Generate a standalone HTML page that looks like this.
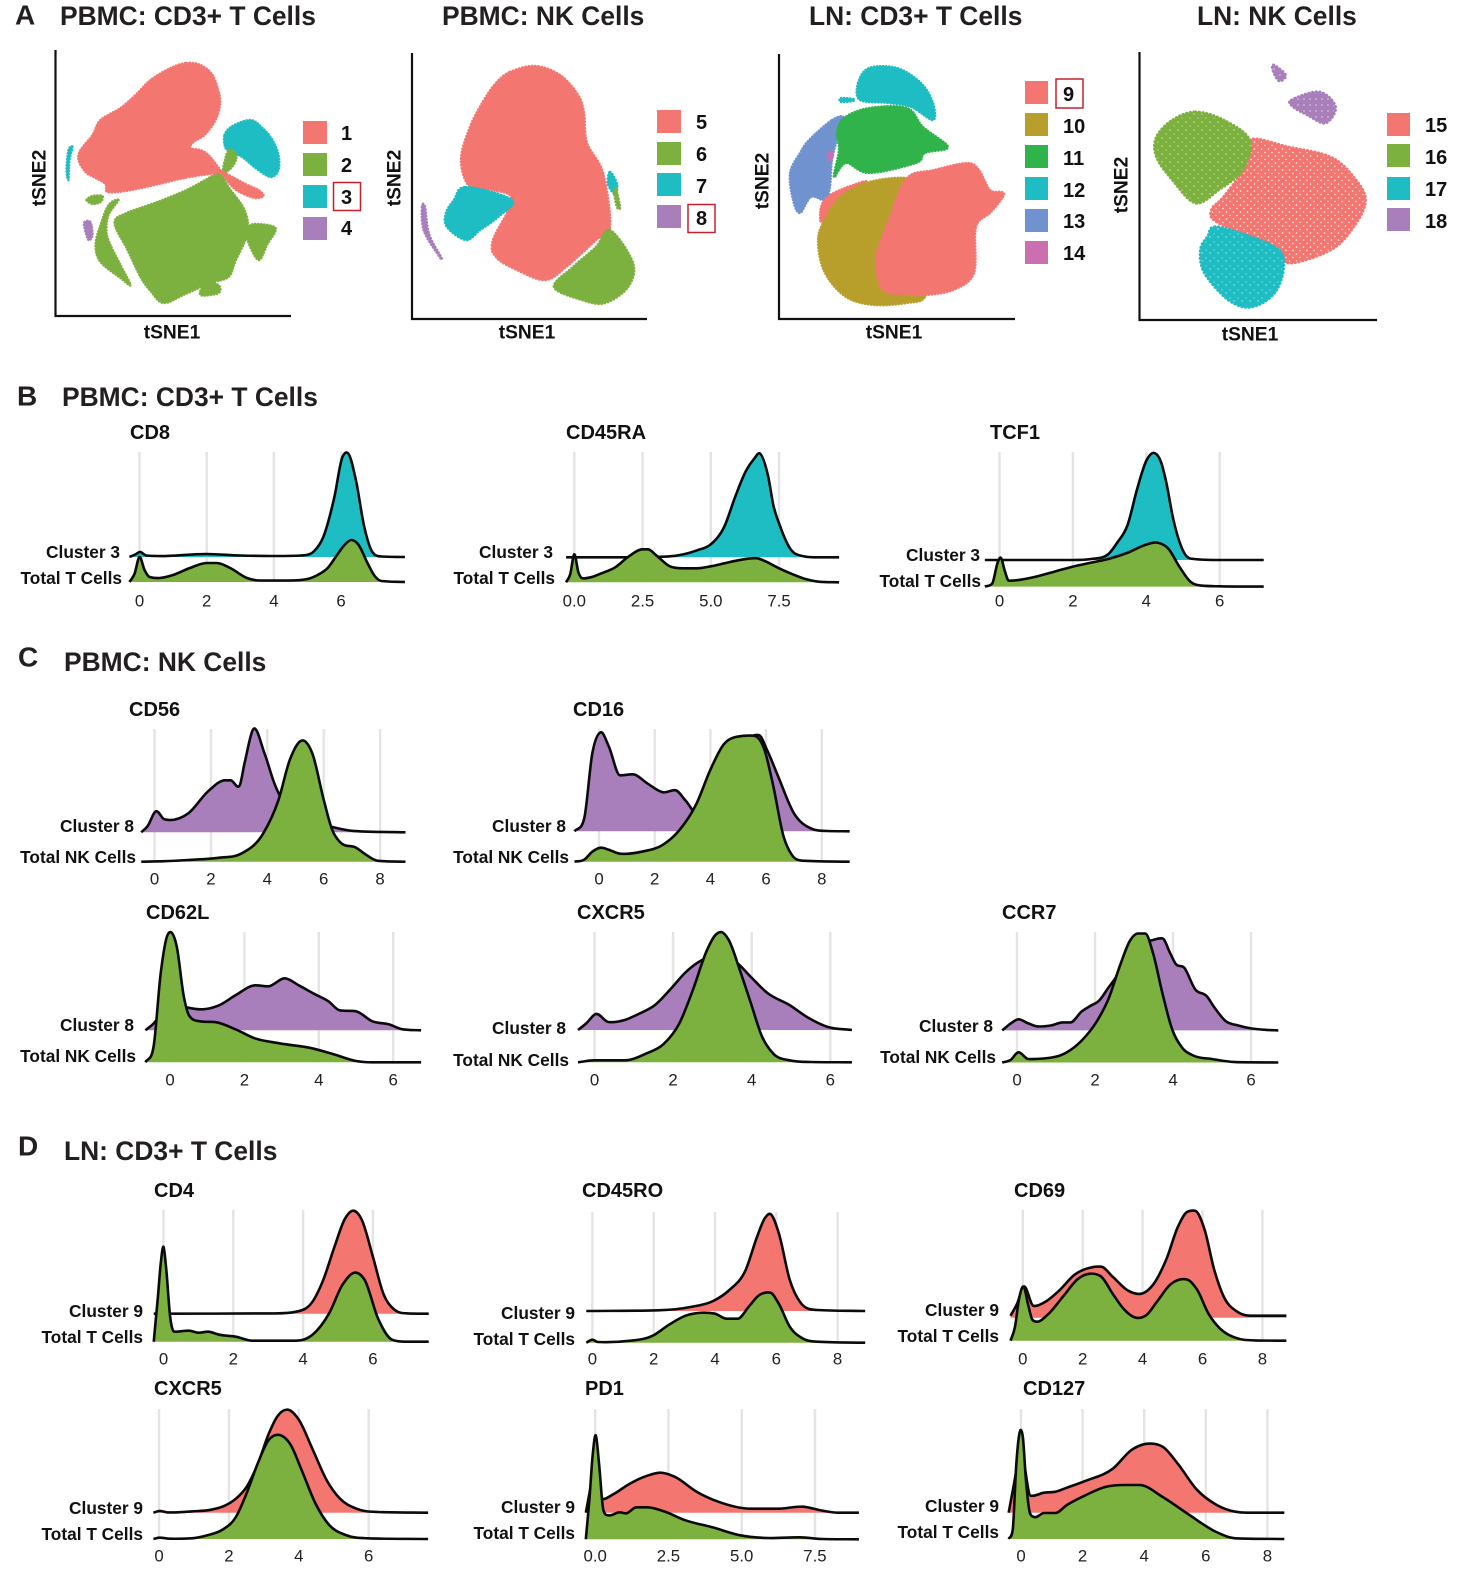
<!DOCTYPE html>
<html lang="en">
<head>
<meta charset="utf-8">
<title>tSNE clusters and marker density ridgelines</title>
<style>
html,body{margin:0;padding:0;background:#fff}
svg{display:block}
text{font-family:"Liberation Sans",sans-serif;fill:#231f20;dominant-baseline:central}
.letter{font-size:28px;font-weight:700}
.section{font-size:26.4px;font-weight:700}
.panel{font-size:20px;font-weight:700;fill:#111}
.row{font-size:17.3px;font-weight:700;text-anchor:end;fill:#111}
.axis{font-size:19.2px;font-weight:700;text-anchor:middle;fill:#111}
.leg{font-size:20px;font-weight:700;fill:#111}
.tick{font-size:16.8px;text-anchor:middle;fill:#222}
</style>
</head>
<body>
<svg id="figure" xmlns="http://www.w3.org/2000/svg" width="1460" height="1569" viewBox="0 0 1460 1569">
<defs>
<pattern id="dots-red" width="7" height="7" patternUnits="userSpaceOnUse"><rect width="7" height="7" fill="#F47670"/><circle cx="1.5" cy="2" r=".8" fill="#fff"/><circle cx="5" cy="5.5" r=".7" fill="#fff"/></pattern>
<pattern id="dots-green" width="8" height="8" patternUnits="userSpaceOnUse"><rect width="8" height="8" fill="#7CB13F"/><circle cx="2" cy="2" r=".6" fill="#fff"/><circle cx="6" cy="6" r=".5" fill="#fff"/></pattern>
<pattern id="dots-teal" width="8" height="8" patternUnits="userSpaceOnUse"><rect width="8" height="8" fill="#1DBDC3"/><circle cx="2" cy="5" r=".6" fill="#fff"/><circle cx="6" cy="2" r=".5" fill="#fff"/></pattern>
<pattern id="dots-purple" width="6" height="6" patternUnits="userSpaceOnUse"><rect width="6" height="6" fill="#A97FBB"/><circle cx="2" cy="3" r=".6" fill="#fff"/></pattern>
</defs>

<g>
<text class="letter" x="15" y="15">A</text>
<text class="section" x="60" y="16">PBMC: CD3+ T Cells</text>
<text class="section" x="442" y="16">PBMC: NK Cells</text>
<text class="section" x="809" y="16">LN: CD3+ T Cells</text>
<text class="section" x="1197" y="16">LN: NK Cells</text>
<text class="letter" x="17" y="396">B</text>
<text class="section" x="62" y="397">PBMC: CD3+ T Cells</text>
<text class="letter" x="18" y="657">C</text>
<text class="section" x="64" y="662">PBMC: NK Cells</text>
<text class="letter" x="18" y="1146">D</text>
<text class="section" x="64" y="1151">LN: CD3+ T Cells</text>
</g>

<g id="tsne-layer"></g>

<g>
<text class="axis" x="172" y="333">tSNE1</text>
<text class="axis" transform="translate(40 178) rotate(-90)">tSNE2</text>
<text class="axis" x="527" y="333">tSNE1</text>
<text class="axis" transform="translate(395 178) rotate(-90)">tSNE2</text>
<text class="axis" x="894" y="333">tSNE1</text>
<text class="axis" transform="translate(763 181) rotate(-90)">tSNE2</text>
<text class="axis" x="1250" y="335">tSNE1</text>
<text class="axis" transform="translate(1122 185) rotate(-90)">tSNE2</text>
</g>

<g>
<rect x="303" y="121" width="24" height="23" fill="#F47670"/><text class="leg" x="341" y="134">1</text>
<rect x="303" y="153" width="24" height="23" fill="#7CB13F"/><text class="leg" x="341" y="166">2</text>
<rect x="303" y="185" width="24" height="23" fill="#1DBDC3"/><text class="leg" x="341" y="198">3</text>
<rect x="303" y="217" width="24" height="23" fill="#A97FBB"/><text class="leg" x="341" y="229">4</text>
<rect x="333.5" y="182.5" width="27" height="28" fill="none" stroke="#c4202e" stroke-width="1.5"/>
</g>
<g>
<rect x="657" y="110" width="24" height="23" fill="#F47670"/><text class="leg" x="696" y="123">5</text>
<rect x="657" y="142" width="24" height="23" fill="#7CB13F"/><text class="leg" x="696" y="155">6</text>
<rect x="657" y="173" width="24" height="23" fill="#1DBDC3"/><text class="leg" x="696" y="187">7</text>
<rect x="657" y="205" width="24" height="23" fill="#A97FBB"/><text class="leg" x="696" y="219">8</text>
<rect x="688" y="204.5" width="27" height="28" fill="none" stroke="#c4202e" stroke-width="1.5"/>
</g>
<g>
<rect x="1025" y="81" width="23" height="23" fill="#F47670"/><text class="leg" x="1063" y="95">9</text>
<rect x="1025" y="113" width="23" height="23" fill="#B89F2C"/><text class="leg" x="1063" y="127">10</text>
<rect x="1025" y="145" width="23" height="23" fill="#2FB34A"/><text class="leg" x="1063" y="159">11</text>
<rect x="1025" y="177" width="23" height="23" fill="#1DBDC3"/><text class="leg" x="1063" y="191">12</text>
<rect x="1025" y="209" width="23" height="23" fill="#7093CF"/><text class="leg" x="1063" y="222">13</text>
<rect x="1025" y="241" width="23" height="23" fill="#CA6FB0"/><text class="leg" x="1063" y="254">14</text>
<rect x="1056" y="79" width="27" height="29" fill="none" stroke="#c4202e" stroke-width="1.5"/>
</g>
<g>
<rect x="1387" y="113" width="23" height="23" fill="#F47670"/><text class="leg" x="1425" y="126">15</text>
<rect x="1387" y="144" width="23" height="23" fill="#7CB13F"/><text class="leg" x="1425" y="158">16</text>
<rect x="1387" y="177" width="23" height="23" fill="#1DBDC3"/><text class="leg" x="1425" y="190">17</text>
<rect x="1387" y="208" width="23" height="23" fill="#A97FBB"/><text class="leg" x="1425" y="222">18</text>
</g>

<g id="ridge-layer"></g>

<g>
<text class="panel" x="130" y="433">CD8</text>
<text class="row" x="120" y="552">Cluster 3</text>
<text class="row" x="122" y="578">Total T Cells</text>
<text class="panel" x="566" y="433">CD45RA</text>
<text class="row" x="553" y="552">Cluster 3</text>
<text class="row" x="555" y="578">Total T Cells</text>
<text class="panel" x="990" y="433">TCF1</text>
<text class="row" x="980" y="555">Cluster 3</text>
<text class="row" x="981" y="581">Total T Cells</text>

<text class="panel" x="129" y="710">CD56</text>
<text class="row" x="134" y="826">Cluster 8</text>
<text class="row" x="136" y="857">Total NK Cells</text>
<text class="panel" x="573" y="710">CD16</text>
<text class="row" x="566" y="826">Cluster 8</text>
<text class="row" x="569" y="857">Total NK Cells</text>
<text class="panel" x="146" y="913">CD62L</text>
<text class="row" x="134" y="1025">Cluster 8</text>
<text class="row" x="136" y="1056">Total NK Cells</text>
<text class="panel" x="577" y="913">CXCR5</text>
<text class="row" x="566" y="1028">Cluster 8</text>
<text class="row" x="569" y="1060">Total NK Cells</text>
<text class="panel" x="1002" y="913">CCR7</text>
<text class="row" x="993" y="1026">Cluster 8</text>
<text class="row" x="996" y="1057">Total NK Cells</text>

<text class="panel" x="154" y="1191">CD4</text>
<text class="row" x="143" y="1311">Cluster 9</text>
<text class="row" x="143" y="1337">Total T Cells</text>
<text class="panel" x="582" y="1191">CD45RO</text>
<text class="row" x="575" y="1313">Cluster 9</text>
<text class="row" x="575" y="1339">Total T Cells</text>
<text class="panel" x="1014" y="1191">CD69</text>
<text class="row" x="999" y="1310">Cluster 9</text>
<text class="row" x="999" y="1336">Total T Cells</text>
<text class="panel" x="154" y="1389">CXCR5</text>
<text class="row" x="143" y="1508">Cluster 9</text>
<text class="row" x="143" y="1534">Total T Cells</text>
<text class="panel" x="585" y="1389">PD1</text>
<text class="row" x="575" y="1507">Cluster 9</text>
<text class="row" x="575" y="1533">Total T Cells</text>
<text class="panel" x="1023" y="1389">CD127</text>
<text class="row" x="999" y="1506">Cluster 9</text>
<text class="row" x="999" y="1532">Total T Cells</text>
</g>
</svg>

<script>
// ---------- tSNE cluster outlines: [tSNE1, tSNE2] ----------
const c1Red=[[131,253],[145,251],[157,241],[164,221],[164,208],[159,194],[149,181],[138,174],[135,168],[145,166],[153,161],[161,151],[165,144],[155,142],[140,140],[120,136],[95,130],[70,125],[52,124],[50,132],[40,138],[30,144],[23,156],[25,166],[37,181],[45,196],[65,208],[80,221],[95,236],[115,248]];
const c1RedRay=[[166,144],[177,139],[190,132],[203,126],[208,120],[200,118],[188,122],[177,129]];
const c3Teal=[[169,181],[177,190],[195,196],[207,188],[217,176],[223,161],[223,146],[215,139],[200,148],[188,158],[177,164],[170,168]];
const c2Bit=[[167,144],[173,166],[181,161],[178,151],[171,144]];
const c2Main=[[164,143],[173,129],[189,106],[192,83],[180,55],[173,39],[155,33],[130,22],[108,13],[95,25],[85,39],[72,66],[59,93],[71,103],[99,113],[131,126],[155,139]];
const c2Right=[[192,88],[200,92],[220,88],[212,72],[203,56],[192,76]];
const c2Crescent=[[63,116],[53,101],[51,84],[55,71],[65,51],[75,31],[65,38],[45,54],[40,71],[45,91],[53,111]];
const c2Small=[[31,116],[37,120],[47,120],[45,114],[37,112]];
const c2Nub=[[150,33],[163,31],[163,23],[145,21]];
const c4Purple=[[29,94],[35,94],[37,81],[33,76],[29,88]];
const c3Sliver=[[17,169],[14,156],[13,136],[11,146],[13,166]];

const c5Red=[[98,247],[123,253],[148,244],[166,224],[172,206],[175,176],[191,146],[198,92],[184,79],[154,52],[133,39],[105,49],[84,62],[81,79],[100,119],[81,129],[58,132],[49,159],[58,192],[72,219],[84,236]];
const c7Teal=[[54,132],[100,119],[86,102],[68,89],[54,79],[35,92],[34,106],[42,119]];
const c6Green=[[198,89],[221,56],[216,32],[193,16],[170,19],[142,32],[161,52],[184,72]];
const c7Small=[[198,147],[205,135],[203,125],[196,135]];
const c6Tail=[[204,130],[208,112],[205,112],[202,128]];
const c8Sliver=[[10,112],[13,112],[17,85],[29,62],[27,63],[12,88]];

const c12Teal=[[79,236],[90,251],[118,251],[142,236],[154,216],[154,199],[132,212],[109,216],[81,219]];
const c12Small=[[62,221],[74,220],[74,218],[62,217]];
const c11Green=[[65,201],[90,211],[128,211],[144,192],[169,172],[146,166],[137,156],[90,146],[67,156],[55,142],[60,169],[58,186]];
const c13Blue=[[53,199],[65,201],[58,179],[53,159],[51,132],[46,119],[32,122],[21,106],[14,119],[11,146],[21,166],[30,179]];
const c14Pink=[[50,167],[54,165],[52,159],[49,161]];
const c9Strip=[[83,137],[48,122],[41,102],[48,99],[83,132]];
const c10Olive=[[128,141],[90,137],[62,122],[44,96],[39,76],[46,46],[67,22],[95,14],[128,16],[146,22],[150,50],[140,90],[135,130]];
const c9Red=[[128,141],[155,149],[188,156],[200,149],[211,129],[223,127],[224,122],[211,106],[197,92],[195,46],[174,29],[146,24],[128,25],[104,29],[97,56],[100,72],[111,102]];

const c16Green=[[56,208],[84,200],[110,180],[103,150],[79,130],[56,117],[33,140],[17,163],[17,183],[33,200]];
const c15Red=[[110,180],[149,173],[191,163],[214,143],[226,120],[214,93],[191,70],[149,57],[135,73],[79,97],[72,110],[84,123],[103,150]];
const c17Teal=[[79,93],[135,73],[144,53],[135,27],[112,13],[89,20],[65,47],[61,70],[68,83]];
const c18Big=[[152,220],[180,228],[196,213],[186,197],[168,205],[154,213]];
const c18Small=[[134,255],[146,245],[140,239],[134,248]];

// ---------- Ridge densities: [marker expression, density] ----------
const cd8Ticks=[0,2,4,6];
const cd8Cluster=[[-.3,0],[-.1,3],[0,5],[.2,1.5],[.5,1],[2,3],[3,1.5],[4,1],[4.8,1.5],[5.2,6],[5.47,20],[5.8,60],[6.04,100],[6.2,104],[6.44,77],[6.69,30],[6.93,5],[7.2,.5],[7.9,0]];
const cd8Total=[[-.3,0],[-.15,8],[0,25],[.15,12],[.3,5],[.6,4],[1,7],[1.5,14],[2,19],[2.3,19],[2.7,14],[3.2,4],[3.6,1.5],[4.4,1.5],[5,3],[5.3,7],[5.6,14],[5.9,28],[6.1,37],[6.3,42],[6.5,38],[6.8,18],[7,6],[7.2,1],[7.9,0]];

const cd45raTicks=[0,2.5,5,7.5];
const cd45raCluster=[[-.3,0],[2,0],[3.5,1],[4.5,7],[5,13],[5.5,31],[5.9,61],[6.3,87],[6.6,99],[6.78,104],[7.1,81],[7.3,51],[7.5,34],[7.9,9],[8.4,1],[8.8,0],[9.7,0]];
const cd45raTotal=[[-.3,0],[-.15,8],[0,28],[.15,10],[.3,4],[.6,5],[1,9],[1.5,15],[2,26],[2.5,33],[2.7,33],[3,27],[3.5,16],[4,14],[4.5,14],[5,16],[5.5,19],[6,22],[6.7,24],[7,21],[7.5,14],[8,8],[8.5,3],[9,.5],[9.7,0]];

const tcf1Ticks=[0,2,4,6];
const tcf1Cluster=[[-.4,0],[2,0],[2.5,1],[2.97,6],[3.2,17],[3.49,35],[3.75,71],[4.01,100],[4.22,107],[4.4,98],[4.53,80],[4.74,40],[5.05,6],[5.3,1],[6,0],[7.2,0]];
const tcf1Total=[[-.4,0],[-.2,3],[-.05,24],[.03,29],[.15,15],[.25,6],[.6,7],[1,10],[1.5,15],[2,20],[2.5,24],[3,28],[3.5,34],[4,42],[4.3,44],[4.6,38],[4.9,20],[5.2,5],[5.5,1],[6,.3],[7.2,0]];

const cd56Ticks=[0,2,4,6,8];
const cd56Cluster=[[-.47,0],[-.25,6],[.05,21],[.35,13],[1.2,19],[1.9,41],[2.5,52],[2.7,52],[3,46],[3.2,70],[3.5,103],[3.9,79],[4.25,49],[4.65,26],[5.4,12],[6.2,6],[7,1.5],[8.9,0]];
const cd56Total=[[-.47,0],[.35,.5],[1.2,1.7],[2.3,4],[3.07,8],[3.85,28],[4.4,62],[4.8,102],[5.3,121],[5.6,108],[6,62],[6.3,32],[6.6,19],[7.15,14],[7.5,7],[7.9,1],[8.9,0]];

const cd16Ticks=[0,2,4,6,8];
const cd16Cluster=[[-.88,0],[-.53,13],[-.24,78],[.06,99],[.35,85],[.75,56],[1.23,57],[1.73,48],[2.3,39],[2.75,41],[3.1,31],[3.6,15],[4.5,60],[5.3,92],[5.75,96],[6.04,81],[6.43,55],[7,18],[7.6,3],[8.2,.3],[9,0]];
const cd16Total=[[-.88,0],[-.53,2],[-.24,10],[.06,14],[.35,12],[.75,8],[1.53,10],[2.3,17],[2.9,32],[3.5,58],[4,92],[4.47,117],[4.96,125],[5.55,126],[5.94,112],[6.24,78],[6.63,25],[6.92,7],[7.3,1],[9,0]];

const cd62lTicks=[0,2,4,6];
const cd62lCluster=[[-.66,0],[-.37,10],[-.1,30],[.44,23],[.88,21],[1.32,25],[1.76,35],[2.28,45],[2.65,44],[3.09,52],[3.46,45],[3.9,36],[4.26,29],[4.56,20],[5,19],[5.44,9],[5.88,6],[6.25,1],[6.75,0]];
const cd62lTotal=[[-.66,0],[-.44,16],[-.25,89],[-.07,127],[.03,130],[.18,116],[.37,66],[.51,47],[.81,41],[1.25,40],[1.76,33],[2.28,24],[2.94,19],[3.82,14],[4.4,8],[5,1.3],[5.44,0],[6.75,0]];

const cxcr5NkTicks=[0,2,4,6];
const cxcr5NkCluster=[[-.42,0],[-.2,7],[.03,16],[.35,8],[.77,10],[1.12,16],[1.54,25],[1.96,42],[2.3,57],[2.65,68],[3.2,75],[3.63,67],[3.98,53],[4.4,37],[4.96,25],[5.45,12],[5.94,3],[6.55,0]];
const cxcr5NkTotal=[[-.42,0],[0,2],[.77,2],[1.33,9],[1.75,18],[2.16,39],[2.5,72],[2.86,112],[3.07,127],[3.25,130],[3.42,122],[3.7,92],[3.98,59],[4.26,26],[4.54,9],[4.96,2],[5.5,.3],[6.55,0]];

const ccr7Ticks=[0,2,4,6];
const ccr7Cluster=[[-.38,0],[-.16,7],[.02,11],[.29,7],[.53,4],[.88,5],[1.17,8],[1.37,8],[1.66,19],[1.86,24],[2.11,30],[2.35,43],[2.5,51],[2.9,75],[3.2,88],[3.44,90],[3.73,92],[3.93,77],[4.08,66],[4.28,63],[4.57,41],[4.87,34],[5.06,23],[5.36,9],[5.66,5],[6,2],[6.4,.5],[6.7,0]];
const ccr7Total=[[-.38,0],[-.16,2.7],[.02,10],[.29,3.5],[.68,4],[1.27,10],[1.66,22],[2.06,42],[2.35,64],[2.65,98],[2.9,122],[3.1,129],[3.29,129],[3.49,109],[3.73,69],[3.98,33],[4.23,15],[4.52,7],[5,3.5],[5.6,.4],[6.7,0]];

const cd4Ticks=[0,2,4,6];
const cd4Cluster=[[-.28,0],[3.17,.3],[3.8,2],[4.27,12],[4.58,34],[4.9,67],[5.2,95],[5.45,103],[5.68,94],[6,57],[6.3,20],[6.62,4],[7,.3],[7.6,0]];
const cd4Total=[[-.28,0],[-.16,45],[-.08,78],[0,95],[.08,72],[.19,25],[.31,10],[.74,11],[1,9],[1.29,10],[1.6,7],[2.07,5],[2.54,1],[3.8,1],[4.27,7],[4.74,28],[5.13,57],[5.53,69],[5.76,62],[6.15,23],[6.55,2],[6.94,0],[7.6,0]];

const cd45roTicks=[0,2,4,6,8];
const cd45roCluster=[[-.2,0],[2.15,.7],[3.2,4],[3.94,10],[4.47,21],[5,41],[5.37,74],[5.63,93],[5.81,97],[6.08,78],[6.44,31],[6.8,8],[7.33,1],[8.9,0]];
const cd45roTotal=[[-.2,0],[0,3],[.18,.7],[1.25,2],[1.97,7],[2.5,18],[3.04,27],[3.58,30],[4,29],[4.38,24],[4.74,24],[5.1,36],[5.46,48],[5.81,50],[6.08,39],[6.44,16],[6.88,4],[7.33,1],[8.9,0]];

const cd69Ticks=[0,2,4,6,8];
const cd69Cluster=[[-.41,2],[-.19,14],[.03,31],[.35,12],[.7,15],[1.21,27],[1.73,43],[2.24,50],[2.62,51],[3,41],[3.52,27],[3.96,24],[4.35,33],[4.8,59],[5.18,91],[5.5,106],[5.75,107],[6.07,88],[6.39,48],[6.71,21],[7.16,6],[7.6,2],[8.8,2]];
const cd69Total=[[-.41,0],[-.26,14],[-.13,41],[.03,54],[.17,37],[.32,21],[.47,19],[.83,26],[1.34,44],[1.85,62],[2.24,67],[2.62,64],[3,47],[3.39,31],[3.77,23],[4.1,25],[4.48,39],[4.92,56],[5.5,61],[5.82,51],[6.2,27],[6.59,12],[7.1,3],[7.74,.3],[8.8,0]];

const cxcr5LnTicks=[0,2,4,6];
const cxcr5LnCluster=[[-.16,0],[0,1.7],[.24,.3],[.94,1.3],[1.49,3],[1.88,7],[2.2,14],[2.51,26],[2.83,49],[3.14,79],[3.38,96],[3.69,103],[4,93],[4.4,63],[4.79,33],[5.18,14],[5.65,4],[6.28,.7],[7.7,0]];
const cxcr5LnTotal=[[-.16,0],[0,1.3],[.3,.3],[.94,.7],[1.41,4],[1.8,9],[2.2,22],[2.51,46],[2.83,76],[3.14,99],[3.45,104],[3.77,94],[4.08,69],[4.47,36],[4.87,14],[5.34,4],[5.97,.7],[7.7,0]];

const pd1Ticks=[0,2.5,5,7.5];
const pd1Cluster=[[-.32,0],[-.13,30],[0,50],[.19,14],[.65,19],[1.12,28],[1.78,37],[2.24,40],[2.71,36],[3.46,21],[4.2,11],[5.33,4],[6.26,4],[7.1,6],[7.76,2],[8.3,0],[9,0]];
const pd1Total=[[-.32,0],[-.19,43],[-.09,83],[.02,104],[.13,76],[.28,29],[.43,24],[.84,27],[1.07,26],[1.4,32],[1.78,32],[2.34,28],[3.08,19],[4,12],[4.95,4],[5.9,1.3],[7,2],[7.76,.3],[9,0]];

const cd127Ticks=[0,2,4,6,8];
const cd127Cluster=[[-.4,0],[-.25,25],[0,60],[.31,17],[.75,20],[1.12,21],[1.49,25],[2.11,32],[2.98,44],[3.6,63],[4.1,69],[4.6,66],[5.09,49],[5.71,23],[6.34,8],[6.96,1],[7.33,0],[8.55,0]];
const cd127Total=[[-.4,0],[-.27,9],[-.15,76],[-.06,104],[0,109],[.06,102],[.16,59],[.29,26],[.43,22],[.75,26],[1.12,26],[1.49,34],[2.11,44],[2.73,52],[3.35,54],[3.85,54],[4.6,42],[5.47,24],[6.34,7],[6.96,.7],[8.55,0]];

// ---------- Layout (separate from data) ----------
const RED='#F47670',GREEN='#7CB13F',TEAL='#1DBDC3',PURPLE='#A97FBB',OLIVE='#B89F2C',DKGREEN='#2FB34A',BLUE='#7093CF',PINK='#CA6FB0';

const tsnePlots=[
 {name:'tsne-pbmc-t',x0:55.5,y0:316,top:50,right:291,rim:2.4,blobs:[[c2Main,GREEN,'cluster-2'],[c2Right,GREEN,'cluster-2'],[c2Crescent,GREEN,'cluster-2'],[c2Small,GREEN,'cluster-2'],[c2Nub,GREEN,'cluster-2'],[c3Teal,TEAL,'cluster-3'],[c2Bit,GREEN,'cluster-2'],[c1Red,RED,'cluster-1'],[c1RedRay,RED,'cluster-1'],[c4Purple,PURPLE,'cluster-4'],[c3Sliver,TEAL,'cluster-3']]},
 {name:'tsne-pbmc-nk',x0:412,y0:319,top:53,right:647,rim:2.6,blobs:[[c5Red,RED,'cluster-5'],[c7Teal,TEAL,'cluster-7'],[c6Green,GREEN,'cluster-6'],[c7Small,TEAL,'cluster-7'],[c6Tail,GREEN,'cluster-6'],[c8Sliver,PURPLE,'cluster-8']]},
 {name:'tsne-ln-t',x0:779,y0:319,top:54,right:1015,rim:2.4,blobs:[[c12Teal,TEAL,'cluster-12'],[c12Small,TEAL,'cluster-12'],[c13Blue,BLUE,'cluster-13'],[c11Green,DKGREEN,'cluster-11'],[c14Pink,PINK,'cluster-14'],[c9Strip,RED,'cluster-9'],[c10Olive,OLIVE,'cluster-10'],[c9Red,RED,'cluster-9']]},
 {name:'tsne-ln-nk',x0:1139.5,y0:320,top:52,right:1377,rim:3,pattern:true,blobs:[[c15Red,'url(#dots-red)','cluster-15',RED],[c16Green,'url(#dots-green)','cluster-16',GREEN],[c17Teal,'url(#dots-teal)','cluster-17',TEAL],[c18Big,'url(#dots-purple)','cluster-18',PURPLE],[c18Small,'url(#dots-purple)','cluster-18',PURPLE]]}
];

const ridgePanels=[
 {name:'cd8',ticks:cd8Ticks,dec:0,top:cd8Cluster,bot:cd8Total,color:TEAL,x0:139.5,unit:33.6,xs:130.5,xe:406,bTop:557,bBot:582,gTop:452,tickY:601},
 {name:'cd45ra',ticks:cd45raTicks,dec:1,top:cd45raCluster,bot:cd45raTotal,color:TEAL,x0:574.3,unit:27.3,xs:565,xe:842,bTop:557.3,bBot:582.3,gTop:452,tickY:601},
 {name:'tcf1',ticks:tcf1Ticks,dec:0,top:tcf1Cluster,bot:tcf1Total,color:TEAL,x0:999.5,unit:36.7,xs:993,xe:1263,bTop:560,bBot:586.6,gTop:452,tickY:601},
 {name:'cd56',ticks:cd56Ticks,dec:0,top:cd56Cluster,bot:cd56Total,color:PURPLE,x0:154.5,unit:28.2,xs:141.5,xe:406,bTop:832.3,bBot:861.7,gTop:729,tickY:879},
 {name:'cd16',ticks:cd16Ticks,dec:0,top:cd16Cluster,bot:cd16Total,color:PURPLE,x0:599,unit:27.85,xs:574,xe:849,bTop:831.3,bBot:861.7,gTop:729,tickY:879},
 {name:'cd62l',ticks:cd62lTicks,dec:0,top:cd62lCluster,bot:cd62lTotal,color:PURPLE,x0:170,unit:37.2,xs:145,xe:421,bTop:1030.3,bBot:1062.3,gTop:932,tickY:1080},
 {name:'cxcr5-nk',ticks:cxcr5NkTicks,dec:0,top:cxcr5NkCluster,bot:cxcr5NkTotal,color:PURPLE,x0:594.5,unit:39.3,xs:578.7,xe:853,bTop:1030,bBot:1062.3,gTop:932,tickY:1080},
 {name:'ccr7',ticks:ccr7Ticks,dec:0,top:ccr7Cluster,bot:ccr7Total,color:PURPLE,x0:1017,unit:39,xs:1002.5,xe:1278.4,bTop:1030.4,bBot:1062.5,gTop:932,tickY:1080},
 {name:'cd4',ticks:cd4Ticks,dec:0,top:cd4Cluster,bot:cd4Total,color:RED,x0:163.5,unit:34.9,xs:153.6,xe:429,bTop:1313.7,bBot:1341.7,gTop:1210,tickY:1359},
 {name:'cd45ro',ticks:cd45roTicks,dec:0,top:cd45roCluster,bot:cd45roTotal,color:RED,x0:592.4,unit:30.65,xs:586,xe:860,bTop:1311,bBot:1342.7,gTop:1212,tickY:1359},
 {name:'cd69',ticks:cd69Ticks,dec:0,top:cd69Cluster,bot:cd69Total,color:RED,x0:1022.8,unit:29.95,xs:1010.6,xe:1286,bTop:1317.7,bBot:1340.7,gTop:1210,tickY:1359},
 {name:'cxcr5-ln',ticks:cxcr5LnTicks,dec:0,top:cxcr5LnCluster,bot:cxcr5LnTotal,color:RED,x0:159,unit:34.95,xs:153.6,xe:429,bTop:1512.7,bBot:1539,gTop:1409,tickY:1556},
 {name:'pd1',ticks:pd1Ticks,dec:1,top:pd1Cluster,bot:pd1Total,color:RED,x0:595.2,unit:29.3,xs:586,xe:860,bTop:1512.7,bBot:1539.3,gTop:1409,tickY:1556},
 {name:'cd127',ticks:cd127Ticks,dec:0,top:cd127Cluster,bot:cd127Total,color:RED,x0:1021,unit:30.8,xs:1008.7,xe:1284.5,bTop:1512.7,bBot:1539,gTop:1409,tickY:1556}
];

const NS='http://www.w3.org/2000/svg';
function make(tag,attrs,parent){
  const n=document.createElementNS(NS,tag);
  for(const k in attrs)n.setAttribute(k,attrs[k]);
  parent.appendChild(n);
  return n;
}

// Closed Catmull-Rom outline so cluster boundaries read as rounded blobs
function closedCurve(pts){
  const n=pts.length;
  let d='M'+pts[0][0].toFixed(1)+' '+pts[0][1].toFixed(1);
  for(let i=0;i<n;i++){
    const a=pts[(i-1+n)%n],b=pts[i],c=pts[(i+1)%n],e=pts[(i+2)%n];
    d+='C'+(b[0]+(c[0]-a[0])/6).toFixed(1)+' '+(b[1]+(c[1]-a[1])/6).toFixed(1)+' '+(c[0]-(e[0]-b[0])/6).toFixed(1)+' '+(c[1]-(e[1]-b[1])/6).toFixed(1)+' '+c[0].toFixed(1)+' '+c[1].toFixed(1);
  }
  return d+'Z';
}

// ---------- tSNE drawing ----------
const tsneLayer=document.getElementById('tsne-layer');
tsnePlots.forEach(function(p){
  const sx=function(v){return p.x0+v;};
  const sy=function(v){return p.y0-v;};
  const g=make('g',{},tsneLayer);
  
  
  p.blobs.forEach(function(b){
    const pts=b[0].map(function(q){return [sx(q[0]),sy(q[1])];});
    const rimColor=b[3]||b[1];
    const blob=make('path',{d:closedCurve(pts),fill:b[1],stroke:rimColor,'stroke-width':p.rim,'stroke-dasharray':'0.4 '+(p.rim*1.1),'stroke-linecap':'round','stroke-linejoin':'round'},g);
    
    
  });
  const yAxis=make('line',{x1:p.x0,y1:p.top,x2:p.x0,y2:p.y0+1,stroke:'#111','stroke-width':2.2},g);
  
  
  const xAxis=make('line',{x1:p.x0-1,y1:p.y0,x2:p.right,y2:p.y0,stroke:'#111','stroke-width':2.2},g);
  
  
});

// ---------- Smooth ridge path with limited tangents ----------
function curve(pts){
  const n=pts.length,dx=[],m=[],t=[];
  for(let i=0;i<n-1;i++){dx[i]=pts[i+1][0]-pts[i][0];m[i]=(pts[i+1][1]-pts[i][1])/(dx[i]||1);}
  t[0]=m[0];t[n-1]=m[n-2];
  for(let i=1;i<n-1;i++){
    const a=m[i-1],b=m[i];
    if(a===0||b===0){t[i]=0;continue;}
    const avg=(dx[i]*a+dx[i-1]*b)/(dx[i-1]+dx[i]);
    const lim=(a*b<0?1:3)*Math.min(Math.abs(a),Math.abs(b));
    t[i]=Math.max(-lim,Math.min(lim,avg));
  }
  let d='M'+pts[0][0].toFixed(2)+' '+pts[0][1].toFixed(2);
  for(let i=0;i<n-1;i++){
    const h=dx[i]/3;
    d+='C'+(pts[i][0]+h).toFixed(2)+' '+(pts[i][1]+t[i]*h).toFixed(2)+' '+(pts[i+1][0]-h).toFixed(2)+' '+(pts[i+1][1]-t[i+1]*h).toFixed(2)+' '+pts[i+1][0].toFixed(2)+' '+pts[i+1][1].toFixed(2);
  }
  return d;
}

// ---------- Ridge drawing ----------
const ridgeLayer=document.getElementById('ridge-layer');
ridgePanels.forEach(function(p){
  const xScale=function(v){return p.x0+v*p.unit;};
  const yScale=function(base,d){return base-d;};
  const g=make('g',{},ridgeLayer);
  
  

  p.ticks.forEach(function(t){
    const grid=make('line',{x1:xScale(t),x2:xScale(t),y1:p.gTop,y2:p.bBot,stroke:'#e4e4e4','stroke-width':2.4},g);
    
    
    const label=make('text',{x:xScale(t),y:p.tickY,'class':'tick'},g);
    label.textContent=t.toFixed(p.dec);
    
    
  });

  [[p.top,p.bTop,p.color,'cluster'],[p.bot,p.bBot,GREEN,'total']].forEach(function(s){
    const pts=s[0].map(function(q){return [xScale(q[0]),yScale(s[1],q[1])];});
    const d=curve(pts);
    const last=pts[pts.length-1],first=pts[0];
    const fill=make('path',{d:d+'L'+last[0].toFixed(2)+' '+s[1]+'L'+first[0].toFixed(2)+' '+s[1]+'Z',fill:s[2],stroke:'none'},g);
    
    
    const line=make('path',{d:d,fill:'none',stroke:'#0b0b0b','stroke-width':2.6,'stroke-linejoin':'round'},g);
    
    
  });
});
</script>
</body>
</html>
